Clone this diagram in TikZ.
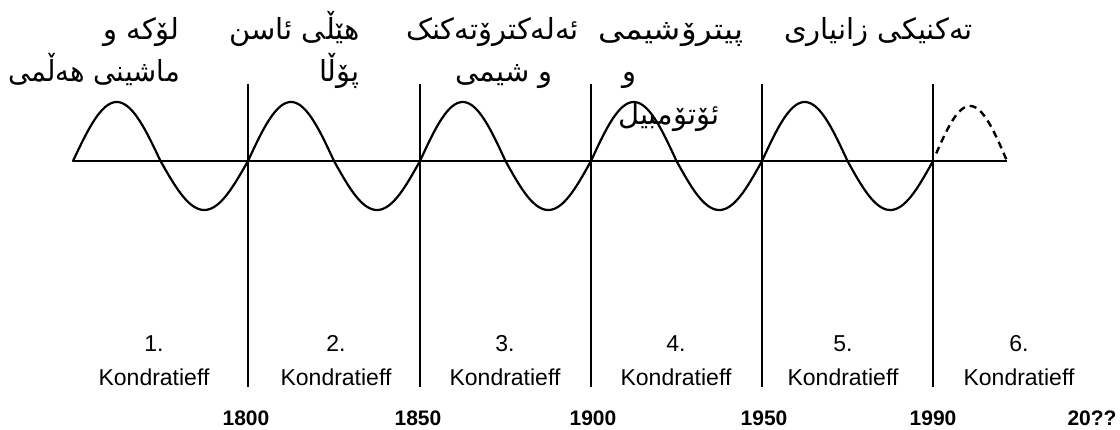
\documentclass[tikz,border=0pt]{standalone}
\usepackage{fontspec}
\setmainfont{Liberation Sans}
\newfontfamily\arabicfont[Script=Arabic]{DejaVu Sans}
\TeXXeTstate=1
\begin{document}
\begin{tikzpicture}[x=1pt,y=-1pt,
  ar/.style={font=\arabicfont\fontsize{29}{34}\selectfont, inner sep=0pt},
  kon/.style={font=\fontsize{23}{27}\selectfont, inner sep=0pt, anchor=base},
  yr/.style={font=\bfseries\fontsize{21}{25}\selectfont, inner sep=0pt, anchor=base},
  vline/.style={line width=2.6pt},
  axisline/.style={line width=2.6pt},
  wave/.style={line width=2.2pt, line cap=round, line join=round},
  dwave/.style={line width=2.4pt, dash pattern=on 7pt off 5pt}]
\useasboundingbox (0,0) rectangle (1120,430);
% axis
\coordinate (a0) at (73,161);
\coordinate (a1) at (1007,161);
\draw[axisline] (a0) -- (a1);
% vertical separators
\foreach \i/\xx in {1/248,2/420,3/591,4/762,5/933}{
  \coordinate (t\i) at (\xx,84);
  \coordinate (b\i) at (\xx,387);
  \draw[vline] (t\i) -- (b\i);
}
% waves
\foreach \xa/\xb in {73/248,248/420,420/591,591/762,762/933}{
  \draw[wave] plot[domain=0:180, samples=40, smooth] ({\xa+(\xb-\xa)*(\x/360)}, {161-59*sin(\x)});
  \draw[wave] plot[domain=180:360, samples=40, smooth] ({\xa+(\xb-\xa)*(\x/360)}, {161-49*sin(\x)});
}
\draw[dwave] plot[domain=8:180, samples=40, smooth] ({933+74*(\x/180)}, {161-55*sin(\x)});
% Kurdish labels
\node[ar, anchor=base east] (l1a) at (180,40) {\beginR لۆکە و\endR};
\node[ar, anchor=base east, xscale=0.95] (l1b) at (180,82) {\beginR ماشینی هەڵمی\endR};
\node[ar, anchor=base east] (l2a) at (360,40) {\beginR هێڵی ئاسن\endR};
\node[ar, anchor=base east] (l2b) at (360,82) {\beginR پۆڵا\endR};
\node[ar, anchor=base east] (l3a) at (579,40) {\beginR ئەلەکترۆتەکنک\endR};
\node[ar, anchor=base east] (l3b) at (553,82) {\beginR و شیمی\endR};
\node[ar, anchor=base west, xscale=1.12] (l4a) at (598,40) {\beginR پیترۆشیمی\endR};
\node[ar, anchor=base west] (l4b) at (622,82) {\beginR و\endR};
\node[ar, anchor=base west] (l4c) at (618,125) {\beginR ئۆتۆمبیل\endR};
\node[ar, anchor=base west] (l5a) at (784,40) {\beginR تەکنیکی زانیاری\endR};
% Kondratieff labels
\foreach \i/\xx in {1/154,2/336,3/505,4/676,5/843,6/1019}{
  \node[kon] (n\i) at (\xx,352) {\i.};
  \node[kon] (k\i) at (\xx,386) {Kondratieff};
}
% years
\foreach \i/\xx/\yy in {1/246/1800,2/418/1850,3/593/1900,4/764/1950,5/933/1990,6/1092/20??}{
  \node[yr] (y\i) at (\xx,425) {\yy};
}
\end{tikzpicture}
\end{document}
